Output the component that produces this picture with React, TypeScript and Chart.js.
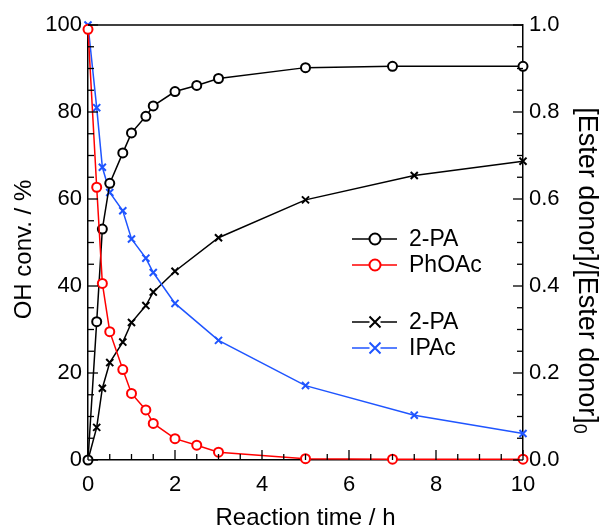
import React, { useEffect, useRef } from 'react';
import { Chart, registerables } from 'chart.js';

Chart.register(...registerables);

// ---- data ----
const timePhOAcRun = [0, 0.2, 0.33, 0.5, 0.8, 1, 1.33, 1.5, 2, 2.5, 3, 5, 7, 10];
const conv2PA_PhOAc = [0, 31.8, 53.1, 63.6, 70.6, 75.2, 79.0, 81.4, 84.7, 86.1, 87.7, 90.2, 90.5, 90.5];
const ratioPhOAc = [0.99, 0.627, 0.406, 0.295, 0.208, 0.153, 0.115, 0.084, 0.049, 0.034, 0.018, 0.003, 0.002, 0.002];

const timeIPAcRun = [0, 0.2, 0.33, 0.5, 0.8, 1, 1.33, 1.5, 2, 3, 5, 7.5, 10];
const conv2PA_IPAc = [0, 7.5, 16.5, 22.4, 27.1, 31.6, 35.5, 38.6, 43.4, 51.1, 59.8, 65.4, 68.7];
const ratioIPAc = [1.0, 0.81, 0.673, 0.615, 0.573, 0.508, 0.464, 0.431, 0.36, 0.275, 0.171, 0.103, 0.061];

const legendLabels = ['2-PA', 'PhOAc', '2-PA', 'IPAc'];
const xTitle = 'Reaction time / h';
const yTitle = 'OH conv. / %';
const y1Title = '[Ester donor]/[Ester donor]';
const y1TitleSub = '0';

const BLACK = '#000000';
const RED = '#ff0000';
const BLUE = '#1f55ff';
const FONT = "'Liberation Sans', Arial, sans-serif";

const toPoints = (xs: number[], ys: number[]) => xs.map((x, i) => ({ x, y: ys[i] }));

const decorPlugin = {
  id: 'decor',
  afterDraw(chart: any) {
    const { ctx, chartArea } = chart;
    const { left, right, top, bottom } = chartArea;
    const xs = chart.scales.x;
    const ys = chart.scales.y;
    const y1s = chart.scales.y1;
    ctx.save();
    ctx.strokeStyle = '#000';
    ctx.lineWidth = 1.5;
    // top border
    ctx.beginPath();
    ctx.moveTo(left, top);
    ctx.lineTo(right, top);
    ctx.stroke();
    ctx.lineWidth = 1.3;
    // x ticks (inward)
    for (let i = 0; i <= 20; i++) {
      const v = i * 0.5;
      const px = xs.getPixelForValue(v);
      const len = i % 4 === 0 ? 10 : 6;
      ctx.beginPath();
      ctx.moveTo(px, bottom);
      ctx.lineTo(px, bottom - len);
      ctx.stroke();
    }
    // left y ticks
    for (let i = 0; i <= 20; i++) {
      const v = i * 5;
      const py = ys.getPixelForValue(v);
      const len = i % 4 === 0 ? 10 : 6;
      ctx.beginPath();
      ctx.moveTo(left, py);
      ctx.lineTo(left + len, py);
      ctx.stroke();
    }
    // right y ticks
    for (let i = 0; i <= 20; i++) {
      const v = i * 0.05;
      const py = y1s.getPixelForValue(v);
      const len = i % 4 === 0 ? 10 : 6;
      ctx.beginPath();
      ctx.moveTo(right, py);
      ctx.lineTo(right - len, py);
      ctx.stroke();
    }

    // legend
    const rows = [
      { label: legendLabels[0], color: BLACK, style: 'circle', y: 239 },
      { label: legendLabels[1], color: RED, style: 'circle', y: 265 },
      { label: legendLabels[2], color: BLACK, style: 'cross', y: 322 },
      { label: legendLabels[3], color: BLUE, style: 'cross', y: 348 },
    ];
    ctx.font = `23px ${FONT}`;
    ctx.textBaseline = 'middle';
    ctx.textAlign = 'left';
    for (const r of rows) {
      ctx.strokeStyle = r.color;
      ctx.lineWidth = 1.5;
      ctx.beginPath();
      ctx.moveTo(352, r.y);
      ctx.lineTo(397, r.y);
      ctx.stroke();
      const cx = 375;
      ctx.lineWidth = 2;
      if (r.style === 'circle') {
        ctx.fillStyle = '#fff';
        ctx.beginPath();
        ctx.arc(cx, r.y, 5.5, 0, Math.PI * 2);
        ctx.fill();
        ctx.stroke();
      } else {
        const s = 5.5;
        ctx.fillStyle = '#fff';
        ctx.fillRect(cx - s, r.y - s, 2 * s, 2 * s);
        ctx.beginPath();
        ctx.moveTo(cx - s, r.y - s);
        ctx.lineTo(cx + s, r.y + s);
        ctx.moveTo(cx + s, r.y - s);
        ctx.lineTo(cx - s, r.y + s);
        ctx.stroke();
      }
      ctx.fillStyle = '#000';
      ctx.fillText(r.label, 409, r.y + 1);
    }

    // left axis title
    ctx.save();
    ctx.translate(24, (top + bottom) / 2 + 7);
    ctx.rotate(-Math.PI / 2);
    ctx.font = `24px ${FONT}`;
    ctx.textAlign = 'center';
    ctx.textBaseline = 'middle';
    ctx.fillStyle = '#000';
    ctx.fillText(yTitle, 0, 0);
    ctx.restore();

    // right axis title with subscript
    const mainFont = `27px ${FONT}`;
    const subFont = `18px ${FONT}`;
    ctx.font = mainFont;
    const w1 = ctx.measureText(y1Title).width;
    ctx.font = subFont;
    const w2 = ctx.measureText(y1TitleSub).width;
    const total = w1 + w2;
    const cy = (top + bottom) / 2 + 28;
    ctx.translate(588, cy);
    ctx.rotate(Math.PI / 2);
    ctx.fillStyle = '#000';
    ctx.textAlign = 'left';
    ctx.textBaseline = 'alphabetic';
    ctx.font = mainFont;
    ctx.fillText(y1Title, -total / 2, 9);
    ctx.font = subFont;
    ctx.fillText(y1TitleSub, -total / 2 + w1, 14);
    ctx.restore();
  },
};

export default function App() {
  const ref = useRef<HTMLCanvasElement | null>(null);
  useEffect(() => {
    document.body.style.margin = '0';
    const canvas = ref.current!;
    const circleCommon = {
      pointStyle: 'circle',
      pointRadius: 4.5,
      pointHoverRadius: 4.5,
      pointBorderWidth: 2,
      pointBackgroundColor: '#ffffff',
      borderWidth: 1.5,
      tension: 0,
      clip: false,
    };
    const crossCommon = {
      pointStyle: 'crossRot',
      pointRadius: 5,
      pointHoverRadius: 5,
      pointBorderWidth: 2,
      borderWidth: 1.5,
      tension: 0,
      clip: false,
    };
    const chart = new Chart(canvas, {
      type: 'line',
      data: {
        datasets: [
          {
            ...circleCommon,
            label: legendLabels[1],
            data: toPoints(timePhOAcRun, ratioPhOAc),
            borderColor: RED,
            pointBorderColor: RED,
            yAxisID: 'y1',
          } as any,
          {
            ...circleCommon,
            label: legendLabels[0],
            data: toPoints(timePhOAcRun, conv2PA_PhOAc),
            borderColor: BLACK,
            pointBorderColor: BLACK,
            yAxisID: 'y',
          } as any,
          {
            ...crossCommon,
            label: legendLabels[3],
            data: toPoints(timeIPAcRun, ratioIPAc),
            borderColor: BLUE,
            pointBorderColor: BLUE,
            yAxisID: 'y1',
          } as any,
          {
            ...crossCommon,
            label: legendLabels[2],
            data: toPoints(timeIPAcRun, conv2PA_IPAc),
            borderColor: BLACK,
            pointBorderColor: BLACK,
            yAxisID: 'y',
          } as any,
        ],
      },
      options: {
        animation: false,
        responsive: false,
        maintainAspectRatio: false,
        devicePixelRatio: 1,
        layout: { padding: { top: 25, left: 0, right: 0, bottom: 0 } },
        plugins: { legend: { display: false }, tooltip: { enabled: false } },
        scales: {
          x: {
            type: 'linear',
            min: 0,
            max: 10,
            grid: { display: false, drawTicks: false },
            border: { display: true, color: '#000', width: 1.5 },
            ticks: { stepSize: 2, color: '#000', font: { family: FONT, size: 22 }, padding: 12 },
            title: {
              display: true,
              text: xTitle,
              color: '#000',
              font: { family: FONT, size: 24, lineHeight: 1 },
              padding: { top: 0, bottom: 1 },
            },
            afterFit: (s: any) => { s.height = 71; },
          },
          y: {
            type: 'linear',
            position: 'left',
            min: 0,
            max: 100,
            grid: { display: false, drawTicks: false },
            border: { display: true, color: '#000', width: 1.5 },
            ticks: { stepSize: 20, color: '#000', font: { family: FONT, size: 22 }, padding: 6 },
            title: { display: false, text: yTitle },
            afterFit: (s: any) => { s.width = 88; },
          },
          y1: {
            type: 'linear',
            position: 'right',
            min: 0,
            max: 1,
            grid: { display: false, drawTicks: false },
            border: { display: true, color: '#000', width: 1.5 },
            ticks: {
              stepSize: 0.2,
              color: '#000',
              font: { family: FONT, size: 22 },
              padding: 6,
              callback: (v: any) => Number(v).toFixed(1),
            },
            afterFit: (s: any) => { s.width = 81; },
          },
        },
      } as any,
      plugins: [decorPlugin],
    });
    return () => chart.destroy();
  }, []);
  return (
    <div style={{ position: 'fixed', left: 0, top: 0, width: 604, height: 531, background: '#fff' }}>
      <canvas ref={ref} width={604} height={531} style={{ display: 'block', width: 604, height: 531 }} />
    </div>
  );
}
